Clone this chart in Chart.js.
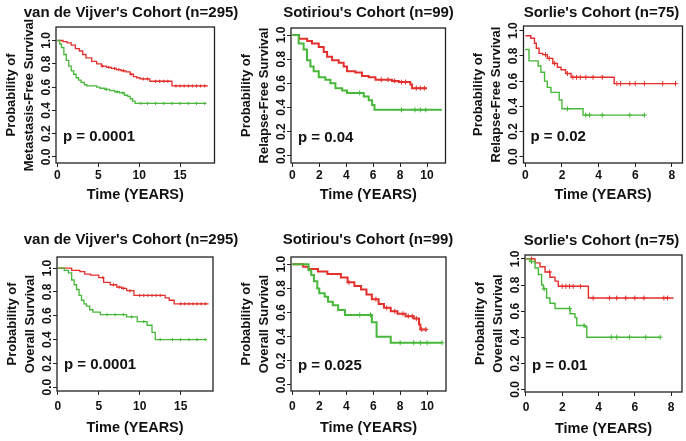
<!DOCTYPE html>
<html>
<head>
<meta charset="utf-8">
<script src="https://cdn.jsdelivr.net/npm/chart.js@4.4.1/dist/chart.umd.min.js"></script>
<style>
  html, body { margin: 0; padding: 0; background: #fff; overflow: hidden; }
  body { width: 686px; height: 441px; position: relative; }
  canvas { position: absolute; }
</style>
</head>
<body>
<script>
// ---- data (years / survival probability) ----
const titles = [
  "van de Vijver's Cohort (n=295)", "Sotiriou's Cohort (n=99)", "Sorlie's Cohort (n=75)",
  "van de Vijver's Cohort (n=295)", "Sotiriou's Cohort (n=99)", "Sorlie's Cohort (n=75)"
];
const yTitles = [
  ["Probability of", "Metastasis-Free Survival"],
  ["Probability of", "Relapse-Free Survival"],
  ["Probability of", "Relapse-Free Survival"],
  ["Probability of", "Overall Survival"],
  ["Probability of", "Overall Survival"],
  ["Probability of", "Overall Survival"]
];
const pValues = ["p = 0.0001", "p = 0.04", "p = 0.02", "p = 0.0001", "p = 0.025", "p = 0.01"];
const xTitle = "Time (YEARS)";
const yTicks = [0, 0.2, 0.4, 0.6, 0.8, 1.0];
const xTicksVdv = [0, 5, 10, 15];
const xTicksSot = [0, 2, 4, 6, 8, 10];
const xTicksSor = [0, 2, 4, 6, 8];

// van de Vijver, metastasis-free
const vdvMfsRedT = [0, 0.7, 1.2, 1.7, 2.2, 2.7, 3.1, 3.5, 4.2, 4.8, 5.4, 6.0, 6.6, 7.2, 7.8, 8.4, 8.9, 9.3, 9.7, 10.1, 11.3, 14.0, 18.4];
const vdvMfsRedS = [1, 0.99, 0.98, 0.96, 0.93, 0.91, 0.88, 0.85, 0.82, 0.80, 0.78, 0.77, 0.76, 0.75, 0.74, 0.73, 0.71, 0.69, 0.68, 0.67, 0.65, 0.61, 0.61];
const vdvMfsRedC = [5.5, 6.3, 7.0, 7.5, 8.1, 9.0, 10.5, 11.0, 12.0, 12.5, 13.0, 13.5, 14.5, 15.0, 15.5, 16.0, 16.5, 17.0, 17.5, 18.0];
const vdvMfsGreenT = [0, 0.3, 0.5, 0.8, 1.1, 1.4, 1.7, 2.0, 2.3, 2.6, 2.9, 3.3, 3.6, 4.8, 5.2, 5.8, 6.4, 7.0, 7.6, 8.2, 8.6, 8.9, 9.2, 9.5, 18.2];
const vdvMfsGreenS = [1, 0.97, 0.94, 0.88, 0.83, 0.78, 0.74, 0.71, 0.68, 0.66, 0.64, 0.62, 0.61, 0.60, 0.59, 0.58, 0.57, 0.56, 0.55, 0.53, 0.52, 0.50, 0.48, 0.46, 0.46];
const vdvMfsGreenC = [6.0, 7.3, 8.0, 10.2, 11, 12, 13, 14, 15, 16, 17, 18];

// Sotiriou, relapse-free
const sotRfsRedT = [0, 0.5, 1.1, 1.46, 1.96, 2.33, 2.58, 2.95, 3.44, 3.81, 4.06, 4.68, 5.17, 5.67, 6.17, 7.4, 7.9, 8.76, 8.89, 10.0];
const sotRfsRedS = [1, 0.97, 0.95, 0.93, 0.90, 0.86, 0.82, 0.79, 0.77, 0.74, 0.70, 0.69, 0.66, 0.65, 0.63, 0.62, 0.61, 0.59, 0.56, 0.56];
const sotRfsRedC = [6.6, 7.1, 7.6, 8.1, 8.4, 9.2, 9.5, 9.8];
const sotRfsGreenT = [0, 0.47, 0.84, 1.09, 1.34, 1.58, 1.96, 2.45, 2.83, 3.2, 3.7, 4.06, 5.3, 5.67, 5.92, 6.1, 11.1];
const sotRfsGreenS = [1, 0.93, 0.88, 0.79, 0.74, 0.70, 0.65, 0.63, 0.60, 0.56, 0.54, 0.52, 0.49, 0.46, 0.42, 0.38, 0.38];
const sotRfsGreenC = [5.0, 8.1, 9.1, 9.5, 9.9];

// Sorlie, relapse-free
const sorRfsRedT = [0, 0.3, 0.5, 0.6, 0.75, 0.95, 1.2, 1.5, 1.75, 1.95, 2.2, 2.5, 4.85, 8.2];
const sorRfsRedS = [0.96, 0.94, 0.90, 0.86, 0.82, 0.81, 0.78, 0.74, 0.71, 0.69, 0.66, 0.63, 0.58, 0.58];
const sorRfsRedC = [1.1, 1.3, 1.6, 2.3, 2.6, 2.8, 3.0, 3.3, 3.7, 4.2, 5.0, 5.2, 5.7, 6.0, 6.5, 7.5, 8.2];
const sorRfsGreenT = [0, 0.2, 0.7, 0.85, 1.05, 1.2, 1.4, 1.85, 2.0, 3.15, 6.5];
const sorRfsGreenS = [0.85, 0.76, 0.72, 0.67, 0.60, 0.55, 0.51, 0.45, 0.38, 0.33, 0.33];
const sorRfsGreenC = [2.3, 3.3, 3.5, 4.2, 5.7, 6.5];

// van de Vijver, overall
const vdvOsRedT = [0, 1.7, 2.7, 3.3, 4.0, 5.0, 5.6, 6.4, 7.2, 7.8, 8.4, 9.3, 13.1, 13.6, 14.2, 18.4];
const vdvOsRedS = [1, 0.98, 0.97, 0.95, 0.94, 0.92, 0.88, 0.86, 0.84, 0.83, 0.81, 0.77, 0.75, 0.73, 0.70, 0.70];
const vdvOsRedC = [5.5, 6.8, 7.5, 8.0, 8.8, 10.0, 10.5, 11.0, 11.5, 12.0, 12.5, 15.0, 15.5, 16.0, 16.5, 17.0, 17.5, 18.0];
const vdvOsGreenT = [0, 0.8, 1.3, 1.7, 2.0, 2.3, 2.6, 2.9, 3.2, 3.5, 3.9, 4.3, 5.2, 8.4, 9.7, 10.9, 11.5, 11.9, 18.2];
const vdvOsGreenS = [1, 0.98, 0.96, 0.90, 0.86, 0.82, 0.77, 0.73, 0.70, 0.68, 0.65, 0.63, 0.61, 0.59, 0.55, 0.52, 0.46, 0.40, 0.40];
const vdvOsGreenC = [6.0, 7.0, 8.0, 9.0, 10.5, 12.5, 14, 15, 16, 17, 18];

// Sotiriou, overall
const sotOsRedT = [0, 0.8, 1.2, 1.9, 2.6, 3.6, 4.1, 4.6, 5.1, 5.5, 5.9, 6.4, 6.8, 7.3, 7.8, 8.4, 9.0, 9.4, 9.5, 10.0];
const sotOsRedS = [1, 0.98, 0.96, 0.94, 0.92, 0.89, 0.85, 0.82, 0.79, 0.75, 0.71, 0.67, 0.64, 0.61, 0.59, 0.57, 0.55, 0.50, 0.46, 0.46];
const sotOsRedC = [4.2, 6.2, 7.0, 7.6, 8.2, 8.6, 8.9, 9.2, 9.6, 9.9];
const sotOsGreenT = [0, 1.2, 1.4, 1.6, 1.85, 2.0, 2.4, 2.65, 3.0, 3.4, 3.9, 5.9, 6.25, 7.3, 11.1];
const sotOsGreenS = [1, 0.95, 0.91, 0.86, 0.80, 0.76, 0.73, 0.69, 0.66, 0.62, 0.58, 0.52, 0.40, 0.35, 0.35];
const sotOsGreenC = [5.0, 5.8, 8.0, 9.0, 9.5, 10.0, 11.1];

// Sorlie, overall
const sorOsRedT = [0, 0.5, 0.77, 1.05, 1.32, 1.6, 1.78, 3.44, 8.13];
const sorOsRedS = [1, 0.97, 0.94, 0.90, 0.86, 0.83, 0.79, 0.70, 0.70];
const sorOsRedC = [0.3, 1.3, 2.0, 2.2, 2.4, 2.6, 3.0, 3.7, 4.6, 5.0, 5.5, 6.0, 6.5, 7.6, 7.8];
const sorOsGreenT = [0, 0.22, 0.5, 0.68, 0.86, 0.96, 1.14, 1.32, 1.6, 2.43, 2.7, 2.8, 3.26, 3.35, 7.4];
const sorOsGreenS = [1, 0.98, 0.93, 0.88, 0.80, 0.77, 0.70, 0.66, 0.62, 0.58, 0.55, 0.49, 0.48, 0.40, 0.40];
const sorOsGreenC = [0.3, 1.0, 2.4, 3.2, 4.7, 5.0, 5.7, 6.6, 7.4];

// ---- layout (page pixels) ----
const RED = "#e3302c";
const GREEN = "#48b83a";
const FONT = "'Liberation Sans', Arial, Helvetica, sans-serif";

const panels = [
  { red: [vdvMfsRedT, vdvMfsRedS, vdvMfsRedC], green: [vdvMfsGreenT, vdvMfsGreenS, vdvMfsGreenC], xTicks: xTicksVdv,
    x: [-0.16, 19.2], y: [-0.052, 1.116], pY: 0.17,
    L: 56, R: 214.5, T: 27, B: 163, titleX: 131, titleY: 12.5, top: 0, tickGap: 12.3, titleGap: 32, lw: 1.3, cr: 1.6 },
  { red: [sotRfsRedT, sotRfsRedS, sotRfsRedC], green: [sotRfsGreenT, sotRfsGreenS, sotRfsGreenC], xTicks: xTicksSot,
    x: [-0.1, 11.37], y: [-0.06, 1.058], pY: 0.15,
    L: 291, R: 445.5, T: 28, B: 163, titleX: 368.5, titleY: 12.5, top: 0, tickGap: 12.3, titleGap: 32, lw: 2, cr: 2.5 },
  { red: [sorRfsRedT, sorRfsRedS, sorRfsRedC], green: [sorRfsGreenT, sorRfsGreenS, sorRfsGreenC], xTicks: xTicksSor,
    x: [-0.1, 8.58], y: [-0.05, 1.037], pY: 0.16,
    L: 523.5, R: 682.5, T: 26, B: 163, titleX: 601.5, titleY: 12.5, top: 0, tickGap: 12.3, titleGap: 32, lw: 1.4, cr: 2.5 },
  { red: [vdvOsRedT, vdvOsRedS, vdvOsRedC], green: [vdvOsGreenT, vdvOsGreenS, vdvOsGreenC], xTicks: xTicksVdv,
    x: [-0.09, 18.94], y: [-0.032, 1.093], pY: 0.19,
    L: 57, R: 213, T: 257, B: 390.5, titleX: 131, titleY: 240, top: 225, tickGap: 15.5, titleGap: 36.5, lw: 1.3, cr: 1.6 },
  { red: [sotOsRedT, sotOsRedS, sotOsRedC], green: [sotOsGreenT, sotOsGreenS, sotOsGreenC], xTicks: xTicksSot,
    x: [-0.1, 11.4], y: [-0.05, 1.06], pY: 0.16,
    L: 291, R: 446, T: 257, B: 391, titleX: 368, titleY: 240, top: 225, tickGap: 15.5, titleGap: 36.5, lw: 2, cr: 2.5 },
  { red: [sorOsRedT, sorOsRedS, sorOsRedC], green: [sorOsGreenT, sorOsGreenS, sorOsGreenC], xTicks: xTicksSor,
    x: [-0.055, 8.6], y: [-0.02, 1.03], pY: 0.18,
    L: 525, R: 682, T: 255, B: 391.5, titleX: 601.5, titleY: 241, top: 225, tickGap: 15.5, titleGap: 36.5, lw: 1.4, cr: 2.5 }
];

function stepPoints(t, s) {
  return t.map((v, i) => ({ x: v, y: s[i] }));
}
function survAt(t, s, time) {
  let v = s[0];
  for (let i = 0; i < t.length; i++) if (t[i] <= time) v = s[i];
  return v;
}
function censorPoints(t, s, c) {
  return c.map(time => ({ x: time, y: survAt(t, s, time) }));
}

// box around the plot area + the p-value label
const framePlugin = {
  id: "frame",
  afterDraw(chart, args, opts) {
    const { ctx, chartArea: a } = chart;
    ctx.save();
    ctx.strokeStyle = "#222";
    ctx.lineWidth = 1.3;
    ctx.strokeRect(a.left, a.top, a.right - a.left, a.bottom - a.top);
    ctx.fillStyle = "#111";
    ctx.font = "bold 15px " + FONT;
    ctx.textBaseline = "middle";
    ctx.fillText(opts.text, a.left + 7, chart.scales.y.getPixelForValue(opts.y));
    ctx.restore();
  }
};

const tickGrid = { drawOnChartArea: false, drawTicks: true, tickLength: 4, color: "#222", lineWidth: 1 };

panels.forEach((p, i) => {
  const left = Math.floor(p.L - 56);
  const yAxisW = p.L - left;
  const width = Math.round(2 * (p.titleX - left));
  const spacer = width - (p.R - left);
  const xAxisH = 50;
  const height = Math.round(p.B + xAxisH - p.top);
  const titlePadTop = p.titleY - p.top - 9;
  const titlePadBottom = p.T - p.top - titlePadTop - 18;

  const canvas = document.createElement("canvas");
  canvas.width = width;
  canvas.height = height;
  canvas.style.left = left + "px";
  canvas.style.top = p.top + "px";
  document.body.appendChild(canvas);

  const [rt, rs, rc] = p.red;
  const [gt, gs, gc] = p.green;

  new Chart(canvas, {
    type: "line",
    data: {
      datasets: [
        { data: stepPoints(gt, gs), borderColor: GREEN, borderWidth: p.lw, stepped: true, pointRadius: 0 },
        { data: stepPoints(rt, rs), borderColor: RED, borderWidth: p.lw, stepped: true, pointRadius: 0 },
        { data: censorPoints(gt, gs, gc), showLine: false, pointStyle: "cross", pointRadius: p.cr,
          borderColor: GREEN, backgroundColor: GREEN, pointBorderWidth: 1 },
        { data: censorPoints(rt, rs, rc), showLine: false, pointStyle: "cross", pointRadius: p.cr,
          borderColor: RED, backgroundColor: RED, pointBorderWidth: 1 }
      ]
    },
    options: {
      responsive: false,
      animation: false,
      layout: { padding: 0 },
      plugins: {
        legend: { display: false },
        tooltip: { enabled: false },
        title: {
          display: true, text: titles[i], color: "#111",
          font: { family: FONT, size: 15, weight: "bold", lineHeight: 1.2 },
          padding: { top: titlePadTop, bottom: titlePadBottom }
        },
        frame: { text: pValues[i], y: p.pY }
      },
      scales: {
        x: {
          type: "linear", bounds: "data", min: p.x[0], max: p.x[1],
          grid: tickGrid, border: { display: false },
          afterBuildTicks: s => { s.ticks = p.xTicks.map(v => ({ value: v })); },
          ticks: { color: "#111", maxRotation: 0, autoSkip: false, padding: p.tickGap - 4 - 7.2,
            font: { family: FONT, size: 12, weight: "bold", lineHeight: 1.2 } },
          title: { display: true, text: xTitle, color: "#111",
            font: { family: FONT, size: 14.5, weight: "bold", lineHeight: 1.2 },
            padding: { top: 0, bottom: xAxisH - p.titleGap - 8.7 } },
          afterFit: s => { s.height = xAxisH; }
        },
        y: {
          type: "linear", bounds: "data", min: p.y[0], max: p.y[1],
          grid: tickGrid, border: { display: false },
          afterBuildTicks: s => { s.ticks = yTicks.map(v => ({ value: v })); },
          ticks: { color: "#111", minRotation: 90, maxRotation: 90, crossAlign: "center", padding: -3,
            callback: v => v.toFixed(1),
            font: { family: FONT, size: 12, weight: "bold", lineHeight: 1.2 } },
          title: { display: true, text: yTitles[i], color: "#111",
            font: { family: FONT, size: 13, weight: "bold", lineHeight: 18 / 13 },
            padding: { top: 2, bottom: 0 } },
          afterFit: s => { s.width = yAxisW; }
        },
        y2: {
          type: "linear", position: "right", display: true, min: 0, max: 1,
          grid: { display: false }, border: { display: false }, ticks: { display: false },
          afterFit: s => { s.width = spacer; }
        }
      }
    },
    plugins: [framePlugin]
  });
});
</script>
</body>
</html>
